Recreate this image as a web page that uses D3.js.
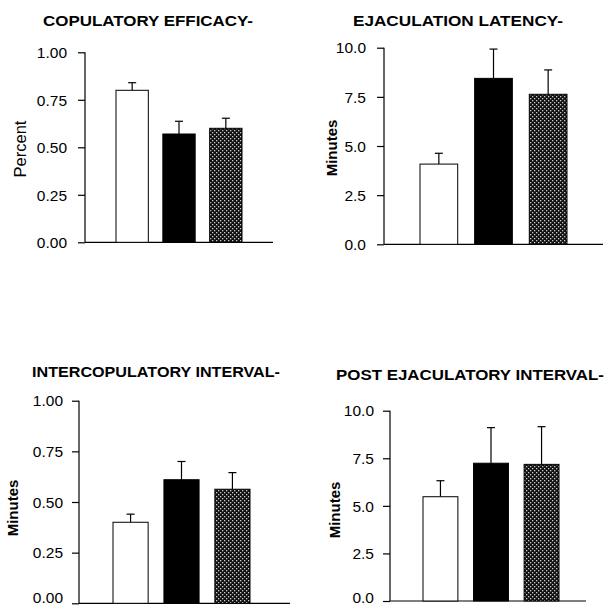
<!DOCTYPE html>
<html><head><meta charset="utf-8">
<script src="https://cdn.jsdelivr.net/npm/d3@7"></script>
<style>body{margin:0;background:#fff}svg{display:block}</style>
</head><body>
<script>
const groups = ["Control", "Group B", "Group C"];
const titles = ["COPULATORY EFFICACY-", "EJACULATION LATENCY-", "INTERCOPULATORY INTERVAL-", "POST EJACULATORY INTERVAL-"];
const yLabels = ["Percent", "Minutes", "Minutes", "Minutes"];
const copEffMean = [0.80, 0.57, 0.60];
const copEffErr  = [0.04, 0.067, 0.053];
const ejLatMean  = [4.08, 8.44, 7.63];
const ejLatErr   = [0.55, 1.49, 1.24];
const icIntMean  = [0.40, 0.61, 0.563];
const icIntErr   = [0.04, 0.09, 0.082];
const peIntMean  = [5.48, 7.24, 7.18];
const peIntErr   = [0.84, 1.87, 1.98];
const ticks01 = [0, 0.25, 0.5, 0.75, 1.0];
const ticks10 = [0, 2.5, 5.0, 7.5, 10.0];

const panels = [
  {title: titles[0], yl: yLabels[0], mean: copEffMean, err: copEffErr, ticks: ticks01, fmt: ".2f", max: 1,
   ax: 85, y0: 242.3, y1: 52.3, xEnd: 273, band: [116, 242], tx: 148, ty: 26, tw: 210, ylx: 20, yly: 149, ylBold: false, ylSize: 16.5, labGap: 18},
  {title: titles[1], yl: yLabels[1], mean: ejLatMean, err: ejLatErr, ticks: ticks10, fmt: ".1f", max: 10,
   ax: 384, y0: 244.3, y1: 47.7, xEnd: 603, band: [420, 567], tx: 458, ty: 26, tw: 210, ylx: 332, yly: 148, ylBold: true, ylSize: 15, labGap: 18},
  {title: titles[2], yl: yLabels[2], mean: icIntMean, err: icIntErr, ticks: ticks01, fmt: ".2f", max: 1,
   ax: 79, y0: 603.3, y1: 400.7, xEnd: 290, band: [113, 250], tx: 156, ty: 377, tw: 248, ylx: 13, yly: 508, ylBold: true, ylSize: 15, labGap: 16},
  {title: titles[3], yl: yLabels[3], mean: peIntMean, err: peIntErr, ticks: ticks10, fmt: ".1f", max: 10,
   ax: 390, y0: 601, y1: 410.7, xEnd: 586, band: [423, 559], tx: 470, ty: 380, tw: 268, ylx: 335, yly: 510, ylBold: true, ylSize: 15, labGap: 16}
];

const svg = d3.select("body").append("svg").attr("width", 606).attr("height", 607);
const defs = svg.append("defs");
const pat = defs.append("pattern").attr("id", "stip").attr("patternUnits", "userSpaceOnUse")
  .attr("width", 4).attr("height", 4);
pat.append("rect").attr("width", 4).attr("height", 4).attr("fill", "#111");
pat.append("rect").attr("x", 0).attr("y", 0).attr("width", 1.3).attr("height", 1.3).attr("fill", "#ccc");
pat.append("rect").attr("x", 2).attr("y", 2).attr("width", 1.3).attr("height", 1.3).attr("fill", "#ccc");

const fills = ["#fff", "#000", "url(#stip)"];

panels.forEach(p => {
  const g = svg.append("g");
  const y = d3.scaleLinear().domain([0, p.max]).range([p.y0, p.y1]);
  const x = d3.scaleBand().domain(groups).range(p.band).paddingInner(0.31).paddingOuter(0);

  g.append("text").attr("x", p.tx).attr("y", p.ty).attr("text-anchor", "middle")
    .attr("font-family", "Liberation Sans, Arial, sans-serif").attr("font-weight", "bold")
    .attr("font-size", 14.5).attr("textLength", p.tw).attr("lengthAdjust", "spacingAndGlyphs")
    .text(p.title);

  const axis = d3.axisLeft(y).tickValues(p.ticks).tickFormat(d3.format(p.fmt)).tickSize(7).tickPadding(p.labGap - 7);
  const ag = g.append("g").attr("transform", `translate(${p.ax},0)`).call(axis);
  ag.select(".domain").attr("d", `M0,${p.y0}V${p.y1}`).attr("stroke", "#000").attr("stroke-width", 1.2);
  ag.selectAll(".tick line").attr("stroke", "#000").attr("stroke-width", 1.2);
  ag.selectAll(".tick text").attr("font-family", "Liberation Sans, Arial, sans-serif")
    .attr("font-size", 15.5).attr("fill", "#000")
    .attr("dy", d => (p.y0 > 590 && d === 0) ? (p.y0 > 602 ? "-0.05em" : "0.1em") : "0.34em");

  g.append("line").attr("x1", p.ax).attr("x2", p.xEnd).attr("y1", p.y0).attr("y2", p.y0)
    .attr("stroke", "#000").attr("stroke-width", 1.2);

  g.append("text").attr("transform", `translate(${p.ylx},${p.yly}) rotate(-90)`)
    .attr("text-anchor", "middle").attr("dy", "0.35em")
    .attr("font-family", "Liberation Sans, Arial, sans-serif")
    .attr("font-weight", p.ylBold ? "bold" : "normal").attr("font-size", p.ylSize).text(p.yl);

  groups.forEach((k, i) => {
    const cx = x(k) + x.bandwidth() / 2;
    const top = y(p.mean[i]);
    const et = y(p.mean[i] + p.err[i]);
    g.append("line").attr("x1", cx).attr("x2", cx).attr("y1", top).attr("y2", et)
      .attr("stroke", "#000").attr("stroke-width", 1.2);
    g.append("line").attr("x1", cx - 4).attr("x2", cx + 4).attr("y1", et).attr("y2", et)
      .attr("stroke", "#000").attr("stroke-width", 1.2);
    g.append("rect").attr("x", x(k)).attr("y", top).attr("width", x.bandwidth())
      .attr("height", p.y0 - top).attr("fill", fills[i]).attr("stroke", "#000").attr("stroke-width", 1);
  });
});
</script>
</body></html>
